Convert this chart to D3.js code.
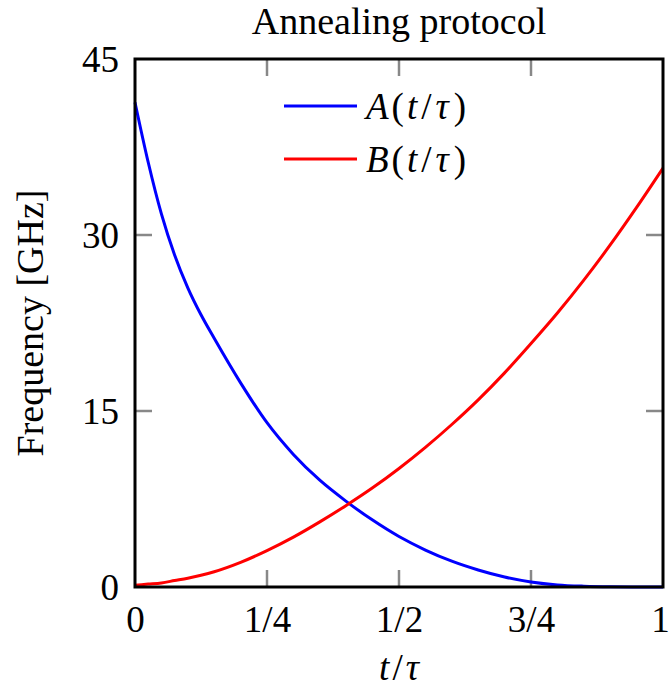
<!DOCTYPE html>
<html>
<head>
<meta charset="utf-8">
<script src="https://cdn.jsdelivr.net/npm/d3@7"></script>
<style>
  html, body { margin: 0; padding: 0; background: #fff; }
  svg { display: block; }
  text { font-family: "Liberation Serif", "Times New Roman", "DejaVu Serif", serif; fill: #000; }
</style>
</head>
<body>
<svg id="chart" width="669" height="694"></svg>
<script>
// ---- data ----
const sValues = [0, 0.025, 0.05, 0.075, 0.1, 0.125, 0.15, 0.2, 0.25, 0.3, 0.35, 0.4, 0.45, 0.5, 0.55, 0.6, 0.65, 0.7, 0.75, 0.8, 0.85, 0.9, 0.95, 1];
const seriesA = [41.3, 36.2, 31.8, 28.3, 25.5, 23.2, 21.2, 17.4, 14.0, 11.3, 9.1, 7.3, 5.7, 4.3, 3.15, 2.2, 1.45, 0.85, 0.43, 0.18, 0.07, 0.02, 0.005, 0];
const seriesB = [0.15, 0.25, 0.35, 0.55, 0.75, 1.0, 1.3, 2.1, 3.1, 4.25, 5.55, 6.95, 8.45, 10.1, 11.9, 13.85, 15.95, 18.25, 20.75, 23.35, 26.15, 29.15, 32.35, 35.7];
const xTickValues = [0, 0.25, 0.5, 0.75, 1];
const xTickLabels = ["0", "1/4", "1/2", "3/4", "1"];
const yTickValues = [0, 15, 30, 45];
const yTickLabels = ["0", "15", "30", "45"];
const seriesNames = ["A", "B"];
const seriesColors = ["#0000ff", "#ff0000"];

(function () {
const svg = d3.select("#chart");
const pL = 135, pR = 663, pT = 59, pB = 587;
const x = d3.scaleLinear().domain([0, 1]).range([pL, pR]);
const y = d3.scaleLinear().domain([0, 45]).range([pB, pT]);
const fs = 37;
const tickLen = 17;
const serif = "Liberation Serif, Times New Roman, serif";

// inward ticks on all four sides
const g = svg.append("g");
const tickColor = "#888";
xTickValues.filter(v => v > 0 && v < 1).forEach(v => {
  g.append("line").attr("x1", x(v)).attr("x2", x(v)).attr("y1", pB).attr("y2", pB - tickLen)
    .attr("stroke", tickColor).attr("stroke-width", 2.5);
  g.append("line").attr("x1", x(v)).attr("x2", x(v)).attr("y1", pT).attr("y2", pT + tickLen)
    .attr("stroke", tickColor).attr("stroke-width", 2.5);
});
yTickValues.filter(v => v > 0 && v < 45).forEach(v => {
  g.append("line").attr("y1", y(v)).attr("y2", y(v)).attr("x1", pL).attr("x2", pL + tickLen)
    .attr("stroke", tickColor).attr("stroke-width", 2.5);
  g.append("line").attr("y1", y(v)).attr("y2", y(v)).attr("x1", pR).attr("x2", pR - tickLen)
    .attr("stroke", tickColor).attr("stroke-width", 2.5);
});

// curves
const line = d3.line().x(d => x(d[0])).y(d => y(d[1])).curve(d3.curveMonotoneX);
[seriesA, seriesB].forEach((vals, i) => {
  svg.append("path")
    .datum(sValues.map((s, j) => [s, vals[j]]))
    .attr("d", line)
    .attr("fill", "none")
    .attr("stroke", seriesColors[i])
    .attr("stroke-width", 3);
});

// frame
svg.append("rect").attr("x", pL).attr("y", pT).attr("width", pR - pL).attr("height", pB - pT)
  .attr("fill", "none").attr("stroke", "#000").attr("stroke-width", 3);

// axis tick labels via d3 axes (no lines)
const xAxis = d3.axisBottom(x).tickValues(xTickValues).tickFormat((d, i) => xTickLabels[i]).tickSize(0).tickPadding(0);
const xg = svg.append("g").attr("transform", `translate(0,${pB})`).call(xAxis);
xg.attr("font-family", serif);
xg.select(".domain").remove();
xg.selectAll("text").attr("font-size", fs).attr("font-family", serif).attr("fill", "#000")
  .attr("dy", null).attr("y", 45)
  .attr("x", d => d === 1 ? -3 : 0);

const yAxis = d3.axisLeft(y).tickValues(yTickValues).tickFormat((d, i) => yTickLabels[i]).tickSize(0).tickPadding(0);
const yg = svg.append("g").attr("transform", `translate(${pL - 16},0)`).call(yAxis);
yg.attr("font-family", serif);
yg.select(".domain").remove();
yg.selectAll("text").attr("font-size", fs).attr("font-family", serif).attr("fill", "#000")
  .attr("dy", "0.34em").attr("x", 0);

// title
svg.append("text").attr("x", (pL + pR) / 2).attr("y", 34).attr("text-anchor", "middle")
  .attr("font-size", 38).text("Annealing protocol");

// x label
const xl = svg.append("text").attr("x", (pL + pR) / 2).attr("y", 680).attr("text-anchor", "middle")
  .attr("font-size", fs);
xl.append("tspan").attr("font-style", "italic").text("t");
xl.append("tspan").attr("dx", 3).text("/");
xl.append("tspan").attr("dx", 3).attr("font-style", "italic").text("τ");

// y label
svg.append("text").attr("transform", `translate(43,${(pT + pB) / 2}) rotate(-90)`)
  .attr("text-anchor", "middle").attr("font-size", 38).text("Frequency [GHz]");

// legend
const legY = [106, 159];
seriesNames.forEach((name, i) => {
  svg.append("line").attr("x1", 284).attr("x2", 357).attr("y1", legY[i]).attr("y2", legY[i])
    .attr("stroke", seriesColors[i]).attr("stroke-width", 3);
  const t = svg.append("text").attr("x", 366).attr("y", legY[i] + 13).attr("font-size", fs);
  t.append("tspan").attr("font-style", "italic").text(name);
  t.append("tspan").attr("dx", 3).text("(");
  t.append("tspan").attr("dx", 3).attr("font-style", "italic").text("t");
  t.append("tspan").attr("dx", 4).text("/");
  t.append("tspan").attr("dx", 4).attr("font-style", "italic").text("τ");
  t.append("tspan").attr("dx", 5).text(")");
});
})();
</script>
</body>
</html>
